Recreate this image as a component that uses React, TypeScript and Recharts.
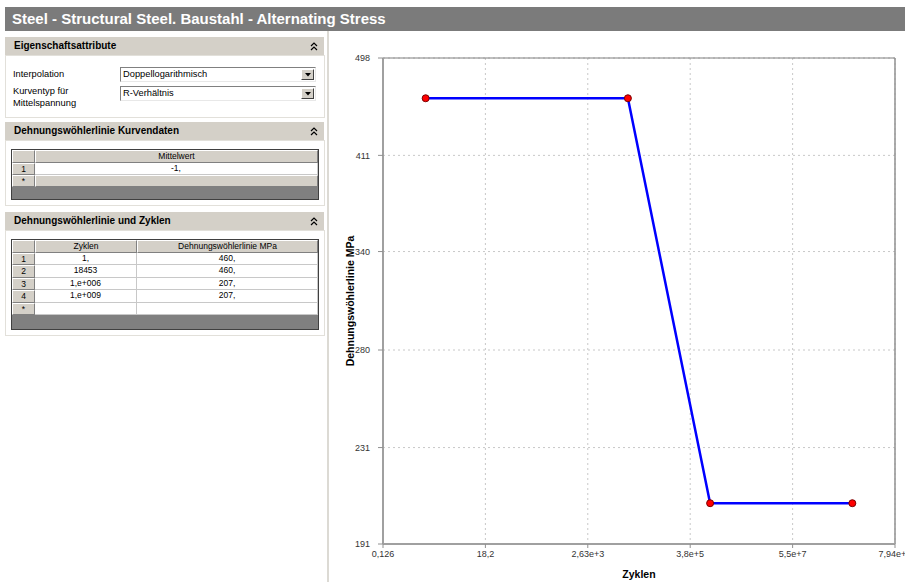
import React from 'react';
import { LineChart, Line, XAxis, YAxis, CartesianGrid, ReferenceLine, Label } from 'recharts';

// S-N curve (alternating stress) of structural steel
const cycles = [1, 18453, 1e6, 1e9];
const stress = [460, 460, 207, 207];

// logarithmic axis ticks
const xTicks = [0.126, 18.2, 2630, 380000, 55000000, 7940000000];
const xTickLabels = ['0,126', '18,2', '2,63e+3', '3,8e+5', '5,5e+7', '7,94e+9'];
const yTicks = [191, 231, 280, 340, 411, 498];

// table contents
const meanValues = ['-1,'];
const cycleCells = ['1,', '18453', '1,e+006', '1,e+009'];
const stressCells = ['460,', '460,', '207,', '207,'];

const data = cycles.map((c, i) => ({ cycles: c, stress: stress[i] }));

const FONT = "'Liberation Sans', Arial, sans-serif";
const FACE = '#d4d0c8';

const abs = (left: number, top: number, width: number, height: number): React.CSSProperties => ({
  position: 'absolute', left, top, width, height, boxSizing: 'border-box',
});

function Chevrons({ x, y }: { x: number; y: number }) {
  return (
    <svg style={{ position: 'absolute', left: x, top: y }} width={8} height={9}>
      <polyline points="1,4 4,1 7,4" fill="none" stroke="#000" strokeWidth={1.2} />
      <polyline points="1,8 4,5 7,8" fill="none" stroke="#000" strokeWidth={1.2} />
    </svg>
  );
}

function SectionHeader({ top, title }: { top: number; title: string }) {
  return (
    <div style={{ ...abs(5, top, 319, 18), background: FACE }}>
      <div style={{ position: 'absolute', left: 9, top: 0, lineHeight: '18px', fontSize: 10, fontWeight: 'bold', color: '#000' }}>{title}</div>
      <Chevrons x={305} y={5} />
    </div>
  );
}

function SectionBody({ top, height, children }: { top: number; height: number; children?: React.ReactNode }) {
  return (
    <div style={{ ...abs(5, top, 320, height), background: '#fff', border: '1px solid #e2e0da' }}>{children}</div>
  );
}

function Dropdown({ top, text }: { top: number; text: string }) {
  return (
    <div style={{ ...abs(120, top, 196, 15), background: '#fff', borderTop: '1px solid #808080', borderLeft: '1px solid #808080', borderRight: '1px solid #e8e8e8', borderBottom: '1px solid #e8e8e8' }}>
      <div style={{ position: 'absolute', left: 2, top: 0, lineHeight: '13px', fontSize: 9.3, color: '#000' }}>{text}</div>
      <div style={{ ...abs(180, 1, 13, 11), background: FACE, borderTop: '1px solid #fff', borderLeft: '1px solid #fff', borderRight: '1px solid #404040', borderBottom: '1px solid #404040' }}>
        <svg style={{ position: 'absolute', left: 3, top: 3 }} width={6} height={4}>
          <polygon points="0,0 6,0 3,3.5" fill="#000" />
        </svg>
      </div>
    </div>
  );
}

const hdrCell: React.CSSProperties = {
  background: FACE, borderTop: '1px solid #fff', borderLeft: '1px solid #fff',
  borderRight: '1px solid #808080', borderBottom: '1px solid #808080',
};

function DataTable({ top, colWidths, headers, rows, rowHeights, starGrey, height }: {
  top: number; colWidths: number[]; headers: string[]; rows: string[][]; rowHeights: number[]; starGrey: boolean; height: number;
}) {
  const cells: React.ReactNode[] = [];
  const xs: number[] = [0];
  colWidths.forEach((w, i) => xs.push(xs[i] + w));
  // header row
  colWidths.forEach((w, c) => {
    cells.push(
      <div key={`h${c}`} style={{ ...abs(xs[c], 0, w, 13), ...hdrCell, textAlign: 'center', fontSize: 8.5, lineHeight: '11px', color: '#000' }}>
        {c === 0 ? '' : headers[c - 1]}
      </div>
    );
  });
  let y = 13;
  const allRows = [...rows.map((r, i) => [String(i + 1), ...r]), ['*', ...colWidths.slice(1).map(() => '')]];
  allRows.forEach((r, ri) => {
    const h = rowHeights[ri];
    const isStar = ri === allRows.length - 1;
    colWidths.forEach((w, c) => {
      const st: React.CSSProperties = c === 0 || (isStar && starGrey)
        ? { ...hdrCell }
        : { background: '#fff', borderRight: '1px solid #c8c8c8', borderBottom: '1px solid #c8c8c8' };
      cells.push(
        <div key={`r${ri}c${c}`} style={{ ...abs(xs[c], y, w, h), ...st, textAlign: 'center', fontSize: 8.5, lineHeight: `${h - 2}px`, color: '#000' }}>
          {r[c]}
        </div>
      );
    });
    y += h;
  });
  return (
    <div style={{ ...abs(11, top, 308, height), border: '1px solid #404040', background: '#808080' }}>
      <div style={{ position: 'absolute', left: 0, top: 0 }}>{cells}</div>
    </div>
  );
}

function YTitle(props: any) {
  const vb = props.viewBox || { x: 0, y: 27, width: 53, height: 486 };
  const cx = vb.x + 20;
  const cy = vb.y + vb.height / 2;
  return (
    <text x={cx} y={cy} transform={`rotate(-90 ${cx} ${cy})`} textAnchor="middle" dominantBaseline="central"
      fontFamily={FONT} fontSize={10.5} fontWeight="bold" fill="#000">
      Dehnungswöhlerlinie MPa
    </text>
  );
}

function XTitle(props: any) {
  const vb = props.viewBox || { x: 53, y: 513, width: 512, height: 38 };
  const cx = vb.x + vb.width / 2;
  const cy = vb.y + 30;
  return (
    <text x={cx} y={cy} textAnchor="middle" dominantBaseline="central"
      fontFamily={FONT} fontSize={10.5} fontWeight="bold" fill="#000">
      Zyklen
    </text>
  );
}

export default function App() {
  const tickStyle = { fontSize: 9, fill: '#333', fontFamily: FONT };
  return (
    <div style={{ position: 'absolute', left: 0, top: 0, width: 905, height: 582, overflow: 'hidden', background: '#fff', fontFamily: FONT }}>
      {/* title bar */}
      <div style={{ ...abs(5, 7, 900, 24), background: '#7b7b7b' }}>
        <div style={{ position: 'absolute', left: 7, top: 0, lineHeight: '24px', fontSize: 15, fontWeight: 'bold', color: '#fff', whiteSpace: 'nowrap' }}>
          Steel - Structural Steel. Baustahl - Alternating Stress
        </div>
      </div>

      {/* left property panel */}
      <div style={{ ...abs(5, 31, 322, 551), background: '#fff' }} />
      <div style={{ ...abs(327, 31, 2, 551), background: '#dcdad4' }} />

      <SectionHeader top={37} title="Eigenschaftsattribute" />
      <SectionBody top={55} height={63}>
        <div style={{ position: 'absolute', left: 7, top: 12, fontSize: 9.3, lineHeight: '12px' }}>Interpolation</div>
        <div style={{ position: 'absolute', left: 7, top: 29, fontSize: 9.3, lineHeight: '12px' }}>Kurventyp für<br />Mittelspannung</div>
      </SectionBody>
      <Dropdown top={67} text="Doppellogarithmisch" />
      <Dropdown top={86} text="R-Verhältnis" />

      <SectionHeader top={122} title="Dehnungswöhlerlinie Kurvendaten" />
      <SectionBody top={140} height={66} />
      <DataTable top={149} colWidths={[23, 283]} headers={['Mittelwert']} rows={meanValues.map(v => [v])}
        rowHeights={[12, 12]} starGrey height={51} />

      <SectionHeader top={212} title="Dehnungswöhlerlinie und Zyklen" />
      <SectionBody top={230} height={106} />
      <DataTable top={239} colWidths={[23, 102, 181]} headers={['Zyklen', 'Dehnungswöhlerlinie MPa']}
        rows={cycleCells.map((c, i) => [c, stressCells[i]])} rowHeights={[12, 13, 12, 13, 12]} starGrey={false} height={91} />

      {/* chart */}
      <div style={{ ...abs(330, 31, 575, 551), overflow: 'hidden' }}>
        <LineChart width={575} height={551} data={data} margin={{ top: 27, right: 10, left: 0, bottom: 0 }}>
          <CartesianGrid stroke="#c8c8c8" strokeDasharray="2 3" />
          <XAxis dataKey="cycles" type="number" scale="log" domain={[xTicks[0], xTicks[xTicks.length - 1]]}
            allowDataOverflow ticks={xTicks} interval={0} height={38} tickSize={4} tickMargin={3}
            tickFormatter={(v: number) => xTickLabels[xTicks.indexOf(v)] ?? String(v)}
            tick={tickStyle} tickLine={{ stroke: '#909090' }} axisLine={{ stroke: '#a0a0a0', strokeWidth: 2 }}>
            <Label content={XTitle} />
          </XAxis>
          <YAxis dataKey="stress" type="number" scale="log" domain={[yTicks[0], yTicks[yTicks.length - 1]]}
            allowDataOverflow ticks={yTicks} interval={0} width={53} tickSize={5} tickMargin={8}
            tickFormatter={(v: number) => String(v)}
            tick={tickStyle} tickLine={{ stroke: '#909090' }} axisLine={{ stroke: '#a0a0a0', strokeWidth: 2 }}>
            <Label content={YTitle} />
          </YAxis>
          <ReferenceLine y={yTicks[yTicks.length - 1]} stroke="#808080" strokeWidth={1.2} />
          <ReferenceLine x={xTicks[xTicks.length - 1]} stroke="#909090" strokeWidth={1.5} />
          <Line type="linear" dataKey="stress" stroke="#0000ff" strokeWidth={2.5} isAnimationActive={false}
            dot={{ r: 3.5, fill: '#ff0000', stroke: '#7a0000', strokeWidth: 1 }} />
        </LineChart>
      </div>
    </div>
  );
}
